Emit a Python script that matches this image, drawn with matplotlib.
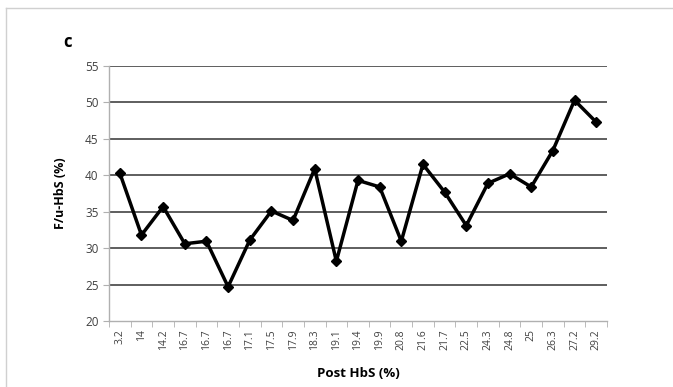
import numpy as np
import matplotlib.pyplot as plt
from matplotlib.lines import Line2D

plt.rcParams['font.family'] = ['Open Sans', 'DejaVu Sans']

# Post HbS (%) categories and F/u-HbS values
post_hbs = ['3.2', '14', '14.2', '16.7', '16.7', '16.7', '17.1', '17.5', '17.9',
            '18.3', '19.1', '19.4', '19.9', '20.8', '21.6', '21.7', '22.5', '24.3',
            '24.8', '25', '26.3', '27.2', '29.2']
fu_hbs = [40.3, 31.8, 35.7, 30.6, 30.95, 24.7, 31.1, 35.1, 33.8, 40.9, 28.2, 39.3,
          38.4, 30.95, 41.5, 37.7, 33.1, 38.9, 40.2, 38.4, 43.4, 50.3, 47.3]
yticks = [20, 25, 30, 35, 40, 45, 50, 55]

fig = plt.figure(figsize=(6.73, 3.87), dpi=100)
ax = fig.add_axes([109 / 673, 1 - 321 / 387, (607 - 109) / 673, (321 - 66) / 387])

x = np.arange(len(post_hbs))
ax.plot(x, fu_hbs, color='black', lw=2.5, marker='D', ms=4.8, zorder=3)

ax.set_xlim(-0.5, len(post_hbs) - 0.5)
ax.set_ylim(20, 55)
ax.set_yticks(yticks)
ax.set_xticks(x)
ax.set_xticklabels(post_hbs, rotation=90, fontsize=7.5, color='#404040')
ax.tick_params(axis='y', labelsize=8.5, colors='#404040', length=4, color='#b0b0b0')
ax.tick_params(axis='x', length=0, pad=6)

# small tick marks between categories
ax.set_xticks(np.arange(-0.5, len(post_hbs)), minor=True)
ax.tick_params(axis='x', which='minor', length=4, color='#b0b0b0')

for v in yticks[1:]:
    ax.axhline(v, color='#333333', lw=1.1, zorder=1)

for s in ['top', 'right']:
    ax.spines[s].set_visible(False)
for s in ['left', 'bottom']:
    ax.spines[s].set_color('#b0b0b0')
    ax.spines[s].set_linewidth(1.0)

ax.set_ylabel('F/u-HbS (%)', fontsize=9, fontweight='bold', labelpad=13)
ax.set_xlabel('Post HbS (%)', fontsize=9.5, fontweight='bold', labelpad=12)

fig.text(63 / 673, 1 - 47 / 387, 'c', fontsize=12, fontweight='bold')

# light frame around the panel
fig.add_artist(Line2D([6 / 673, 1], [1 - 8 / 387, 1 - 8 / 387], color='#d0d0d0', lw=1))
fig.add_artist(Line2D([6 / 673, 6 / 673], [0, 1 - 8 / 387], color='#d0d0d0', lw=1))

fig.savefig('out.png', dpi=100)
